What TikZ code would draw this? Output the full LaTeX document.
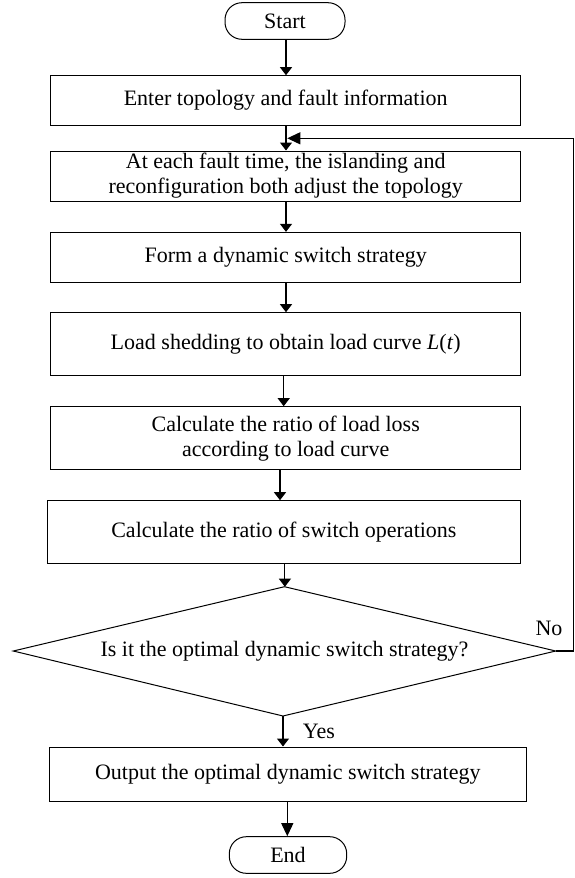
\documentclass[tikz,border=0pt]{standalone}
\usepackage{fontspec}
\setmainfont{Liberation Serif}
\usetikzlibrary{arrows.meta,shapes.geometric,calc}
\tikzset{
  base/.style={draw, line width=1pt, inner sep=1pt, align=center,
    font=\fontsize{22}{25}\selectfont},
  procbox/.style={base, rectangle},
  termbox/.style={base, rectangle, rounded corners=17pt},
  arr/.style={line width=1.1pt, -{Stealth[length=8pt,width=12pt,inset=0pt]}},
  bigarr/.style={line width=1.1pt, -{Stealth[length=13pt,width=12pt,inset=0pt]}},
  lbl/.style={font=\fontsize{22}{25}\selectfont, inner sep=0pt},
}
\begin{document}
\begin{tikzpicture}[x=1pt,y=-1pt]
\useasboundingbox (0,0) rectangle (574,878);
\node[termbox, minimum width=120pt, minimum height=36.6pt] (start) at (285,21) {Start};
\node[procbox, minimum width=470pt, minimum height=49.6pt] (b1) at (285.7,100.5) {Enter topology and fault information};
\node[procbox, minimum width=470pt, minimum height=50pt] (b2) at (285.7,176) {At each fault time, the islanding and\\reconfiguration both adjust the topology};
\node[procbox, minimum width=470pt, minimum height=49.7pt] (b3) at (285.7,257.2) {Form a dynamic switch strategy};
\node[procbox, minimum width=470pt, minimum height=62.6pt] (b4) at (285.7,344) {Load shedding to obtain load curve \textit{L}(\textit{t})};
\node[procbox, minimum width=470pt, minimum height=63pt] (b5) at (285.7,438.2) {Calculate the ratio of load loss\\according to load curve};
\node[procbox, minimum width=473.7pt, minimum height=62.6pt] (b6) at (283.9,532) {Calculate the ratio of switch operations};
\draw[line width=1pt] (284.5,586.7) coordinate (dtop) -- (555.7,651) coordinate (dright) -- (283,716) coordinate (dbot) -- (13.3,651) coordinate (dleft) -- cycle;
\node[lbl] (dtext) at (284.5,651) {Is it the optimal dynamic switch strategy?};
\node[procbox, minimum width=477pt, minimum height=54pt] (out) at (287.8,774) {Output the optimal dynamic switch strategy};
\node[termbox, minimum width=117.4pt, minimum height=36.6pt] (stop) at (288,855) {End};
\node[lbl] (no) at (549,628) {No};
\node[lbl] (yes) at (319,731) {Yes};
\coordinate (fbA) at (573.3,651);
\coordinate (fbB) at (573.3,138.3);
\coordinate (fbC) at (287.3,138.3);
\coordinate (a45) at ($(b4.south)+(-2,0)$);
\coordinate (a6d) at ($(b6.south)+(1,0)$);
\draw[arr] ($(start.south)+(1,0)$) -- ($(b1.north)+(0.3,0)$);
\draw[arr] ($(b1.south)+(0.3,0)$) -- ($(b2.north)+(0.3,0)$);
\draw[arr] ($(b2.south)+(0.3,0)$) -- ($(b3.north)+(0.3,0)$);
\draw[arr] ($(b3.south)+(0.3,0)$) -- ($(b4.north)+(0.3,0)$);
\draw[arr] (a45) -- (a45 |- b5.north);
\draw[arr] ($(b5.south)+(-5.7,0)$) -- ($(b6.north)+(-3.9,0)$);
\draw[arr] (a6d) -- (a6d |- dtop);
\draw[arr] (dbot) -- ($(out.north)+(-4.8,0)$);
\draw[bigarr] ($(out.south)+(-0.5,0)$) -- ($(stop.north)+(-0.7,0)$);
\draw[bigarr] (dright) -- (fbA) -- (fbB) -- (fbC);
\end{tikzpicture}
\end{document}
